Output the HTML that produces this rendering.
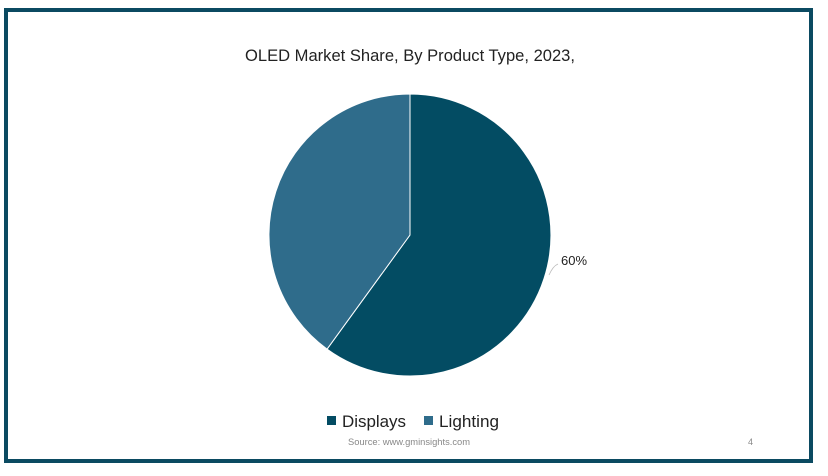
<!DOCTYPE html>
<html><head><meta charset="utf-8"><style>
body{margin:0;background:#fff;width:828px;height:471px;overflow:hidden;font-family:"Liberation Sans",sans-serif}
</style></head><body>
<svg width="828" height="471" xmlns="http://www.w3.org/2000/svg">
<rect x="0" y="0" width="828" height="471" fill="#fff"/>
<rect x="6" y="10" width="805" height="451" fill="#fff" stroke="#0b4a61" stroke-width="4"/>
<text x="410" y="61" text-anchor="middle" font-size="17" fill="#222" textLength="330" lengthAdjust="spacingAndGlyphs">OLED Market Share, By Product Type, 2023,</text>
<path d="M410,235 L410,94 A141,141 0 1 1 327.1,349.1 Z" fill="#034c63" stroke="#fff" stroke-width="1"/>
<path d="M410,235 L327.1,349.1 A141,141 0 0 1 410,94 Z" fill="#2f6c8b" stroke="#fff" stroke-width="1"/>
<path d="M549,275 Q553,266 558,264" fill="none" stroke="#bbb" stroke-width="0.8"/>
<text x="561" y="265" font-size="13" fill="#222">60%</text>
<rect x="327" y="416" width="9" height="9" fill="#034c63"/>
<text x="342" y="427" font-size="17" fill="#222" textLength="64" lengthAdjust="spacingAndGlyphs">Displays</text>
<rect x="424" y="416" width="9" height="9" fill="#2f6c8b"/>
<text x="439" y="427" font-size="17" fill="#222" textLength="60" lengthAdjust="spacingAndGlyphs">Lighting</text>
<text x="348" y="445" font-size="9" fill="#888" textLength="122" lengthAdjust="spacingAndGlyphs">Source: www.gminsights.com</text>
<text x="748" y="445" font-size="9" fill="#888">4</text>
</svg>
</body></html>
